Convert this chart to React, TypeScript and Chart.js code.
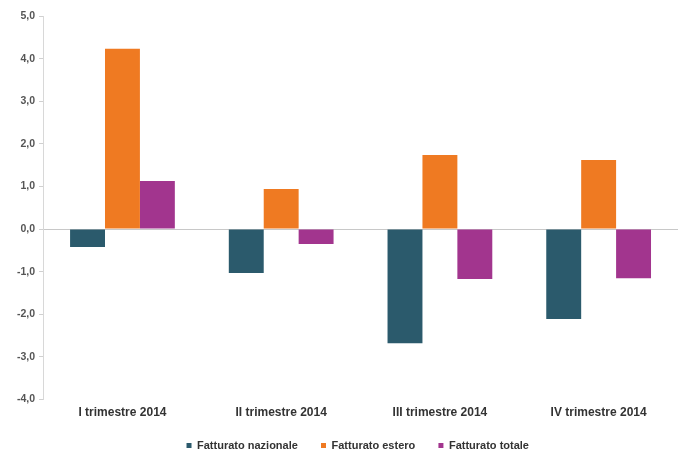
import React, { useEffect, useRef } from "react";
import { Chart, registerables } from "chart.js";

Chart.register(...registerables);

const categories = ["I trimestre 2014", "II trimestre 2014", "III trimestre 2014", "IV trimestre 2014"];
const nazionale = [-0.42, -1.03, -2.68, -2.11];
const estero = [4.23, 0.94, 1.74, 1.62];
const totale = [1.13, -0.35, -1.17, -1.15];

export default function App() {
  const ref = useRef<HTMLCanvasElement | null>(null);
  useEffect(() => {
    if (!ref.current) return;
    const fam = "'Liberation Sans', Arial, sans-serif";
    const chart = new Chart(ref.current, {
      type: "bar",
      data: {
        labels: categories,
        datasets: [
          { label: "Fatturato nazionale", data: nazionale, backgroundColor: "#2B5A6C" },
          { label: "Fatturato estero", data: estero, backgroundColor: "#EF7A22" },
          { label: "Fatturato totale", data: totale, backgroundColor: "#A2358E" },
        ],
      },
      options: {
        animation: false,
        responsive: false,
        maintainAspectRatio: false,
        layout: { padding: { top: 16, right: 0, left: 13, bottom: -6 } },
        datasets: { bar: { barPercentage: 1.0, categoryPercentage: 0.66 } },
        plugins: {
          legend: {
            position: "bottom",
            labels: {
              boxWidth: 5,
              boxHeight: 5,
              font: { family: fam, size: 11, weight: "bold" },
              color: "#333",
              padding: 14,
              generateLabels: (c: any) => {
                const base = Chart.defaults.plugins.legend.labels.generateLabels(c);
                const items = base.map((it: any, i: number) => ({
                  ...it,
                  text: i < base.length - 1 ? it.text + "\u00a0\u00a0\u00a0" : it.text,
                  lineWidth: 0,
                }));
                // spacer entry to offset the centred legend row slightly to the right
                const spacer = {
                  text: "",
                  fillStyle: "rgba(0,0,0,0)",
                  strokeStyle: "rgba(0,0,0,0)",
                  lineWidth: 0,
                  hidden: false,
                  datasetIndex: -1,
                  fontColor: "rgba(0,0,0,0)",
                };
                return [spacer, ...items];
              },
            },
            onClick: () => {},
          },
          tooltip: { enabled: false },
        },
        scales: {
          x: {
            grid: { display: false, drawTicks: false, tickLength: 0 },
            border: { display: false },
            ticks: { font: { family: fam, size: 12, weight: "bold" }, color: "#333", maxRotation: 0, padding: 6 },
          },
          y: {
            min: -4,
            max: 5,
            ticks: {
              stepSize: 1,
              font: { family: fam, size: 10.5, weight: "bold" },
              color: "#555",
              padding: 4,
              callback: (v: any) => Number(v).toFixed(1).replace(".", ","),
            },
            grid: {
              color: (ctx: any) => (ctx.tick && ctx.tick.value === 0 ? "#c8c8c8" : "transparent"),
              tickColor: "#d0d0d0",
              tickLength: 4,
            },
            border: { display: true, color: "#d8d8d8" },
          },
        },
      },
    });
    return () => chart.destroy();
  }, []);
  return (
    <div style={{ position: "absolute", left: 0, top: 0, width: 678, height: 455, background: "#fff" }}>
      <canvas ref={ref} width={678} height={455} />
    </div>
  );
}
